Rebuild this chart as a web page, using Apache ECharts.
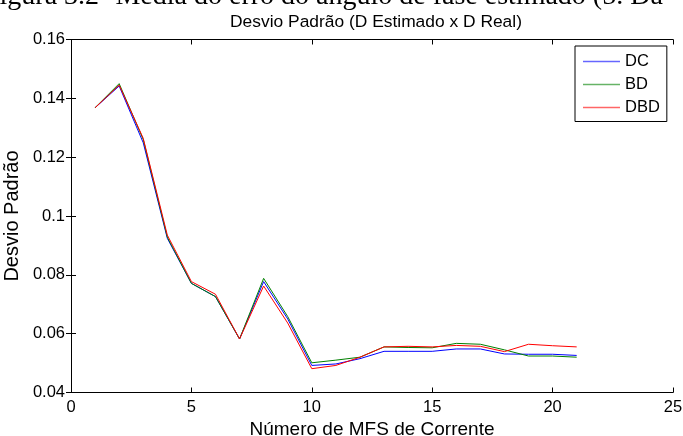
<!DOCTYPE html>
<html><head><meta charset="utf-8">
<script src="https://cdn.jsdelivr.net/npm/echarts@6/dist/echarts.min.js"></script>
<style>html,body{margin:0;padding:0;background:#fff}#c{width:683px;height:436px}</style>
</head><body><div id="c"></div>
<script>
var xValues = [1,2,3,4,5,6,7,8,9,10,11,12,13,14,15,16,17,18,19,20,21];
var dcValues  = [0.1368,0.1442,0.1249,0.0924,0.0771,0.0726,0.0582,0.0777,0.0650,0.0492,0.0497,0.0515,0.0540,0.0540,0.0540,0.0548,0.0548,0.0531,0.0530,0.0530,0.0526];
var bdValues  = [0.1368,0.1450,0.1260,0.0928,0.0771,0.0726,0.0582,0.0788,0.0658,0.0501,0.0510,0.0520,0.0555,0.0553,0.0552,0.0567,0.0564,0.0545,0.0524,0.0524,0.0520];
var dbdValues = [0.1368,0.1445,0.1264,0.0935,0.0777,0.0734,0.0582,0.0762,0.0636,0.0481,0.0492,0.0520,0.0555,0.0557,0.0555,0.0560,0.0557,0.0539,0.0564,0.0559,0.0555];
var seriesNames = ['DC','BD','DBD'];
var seriesColors = ['#0000ff','#008000','#ff0000'];
var chart = echarts.init(document.getElementById('c'));
function pairs(v){return xValues.map(function(x,i){return [x,v[i]];});}
var font = 'Liberation Sans';
var axisCommon = {
  axisLine:{show:true,lineStyle:{color:'#000',width:1}},
  axisTick:{show:true,inside:true,length:5,lineStyle:{color:'#000'}},
  splitLine:{show:false}
};
function mkSeries(name,vals,col){
  return {name:name,type:'line',data:pairs(vals),showSymbol:false,color:col,
    itemStyle:{color:col},lineStyle:{width:1,color:col}};
}
chart.setOption({
  animation:false,
  backgroundColor:'#fff',
  grid:{left:71,right:10,top:39.5,bottom:43.5,containLabel:false,outerBoundsMode:'none'},
  title:{text:'Desvio Padrão (D Estimado x D Real)',left:371,textAlign:'center',top:9,
    textStyle:{fontFamily:font,fontSize:17.4,fontWeight:'normal',color:'#000'}},
  graphic:[{type:'text',left:-16,top:-17,style:{text:'Figura 3.2- Média do erro do ângulo de fase estimado (5. Da',font:'28px "Liberation Serif"',fill:'#000'}}],
  legend:{orient:'vertical',left:575,top:46,
    padding:[7,7,5.5,8],itemGap:6,itemWidth:37,itemHeight:1.6,icon:'rect',
    backgroundColor:'#fff',borderColor:'#000',borderWidth:1,borderRadius:0,
    textStyle:{fontFamily:font,fontSize:16.5,lineHeight:17,color:'#000'},
    data:seriesNames.map(function(n,i){return {name:n,itemStyle:{color:seriesColors[i],opacity:0.6}};})},
  xAxis:[
    Object.assign({type:'value',min:0,max:25,interval:5,position:'bottom',
      name:'Número de MFS de Corrente',nameLocation:'middle',nameGap:21,
      nameTextStyle:{fontFamily:font,fontSize:19,color:'#000'},
      axisLabel:{fontFamily:font,fontSize:16.5,color:'#000',margin:6}},axisCommon),
    Object.assign({type:'value',min:0,max:25,interval:5,position:'top',axisLabel:{show:false}},axisCommon)
  ],
  yAxis:[
    Object.assign({type:'value',min:0.04,max:0.16,interval:0.02,position:'left',
      name:'Desvio Padrão',nameLocation:'middle',nameGap:46,
      nameTextStyle:{fontFamily:font,fontSize:20,color:'#000'},
      axisLabel:{fontFamily:font,fontSize:16.5,color:'#000',margin:6,
        formatter:function(v){return String(Math.round(v*100)/100);}}},axisCommon),
    Object.assign({type:'value',min:0.04,max:0.16,interval:0.02,position:'right',axisLabel:{show:false}},axisCommon)
  ],
  series:[
    mkSeries(seriesNames[0],dcValues,seriesColors[0]),
    mkSeries(seriesNames[1],bdValues,seriesColors[1]),
    mkSeries(seriesNames[2],dbdValues,seriesColors[2])
  ]
});
</script></body></html>
